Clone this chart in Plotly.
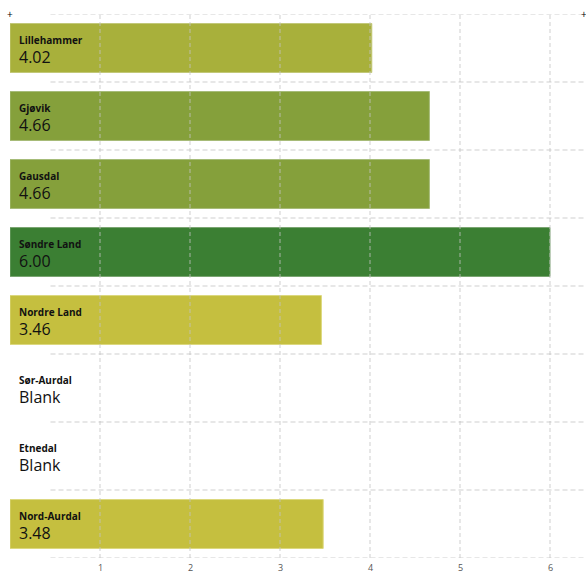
import plotly.graph_objects as go

categories = ["Lillehammer", "Gjøvik", "Gausdal", "Søndre Land", "Nordre Land", "Sør-Aurdal", "Etnedal", "Nord-Aurdal"]
values = [4.02, 4.66, 4.66, 6.00, 3.46, None, None, 3.48]
colors = ["#a8b03b", "#85a03b", "#85a03b", "#3b7f33", "#c5bf3f", "#cccccc", "#cccccc", "#c5bf3f"]
edge_colors = ["#c2c878", "#a6bb78", "#a6bb78", "#7aa572", "#dcd87e", "#eeeeee", "#eeeeee", "#dcd87e"]
tick_vals = [1, 2, 3, 4, 5, 6]

fig = go.Figure()
fig.add_trace(go.Bar(
    x=values, y=categories, orientation="h",
    marker=dict(color=colors, line=dict(color=edge_colors, width=1)),
    width=0.72, hoverinfo="skip",
))

FONT = "Open Sans"
ann = []
for c, v in zip(categories, values):
    ann.append(dict(x=0.078, y=c, xref="x", yref="y", text="<b>%s</b>" % c, showarrow=False,
                    xanchor="left", yanchor="middle", yshift=8, font=dict(family=FONT, size=10, color="#111")))
    ann.append(dict(x=0.078, y=c, xref="x", yref="y", text=("%.2f" % v) if v is not None else "Blank",
                    showarrow=False, xanchor="left", yanchor="middle", yshift=-9,
                    font=dict(family=FONT, size=16, color="#111")))
for t in tick_vals:
    ann.append(dict(x=t, y=0, xref="x", yref="paper", text=str(t), showarrow=False,
                    yanchor="middle", yshift=-9, borderpad=0, font=dict(family=FONT, size=9, color="#555")))
ann.append(dict(x=0, y=1, xref="paper", yref="paper", text="+", showarrow=False,
                xanchor="center", yanchor="middle", yshift=0, font=dict(family=FONT, size=10, color="#000")))
ann.append(dict(x=0.996, y=1, xref="paper", yref="paper", text="+", showarrow=False,
                xanchor="center", yanchor="middle", yshift=0, font=dict(family=FONT, size=10, color="#000")))

shapes = []
grid = dict(color="rgba(195,195,195,0.8)", width=1, dash="5px,3px")
for k in range(len(categories) + 1):
    yv = k - 0.5
    shapes.append(dict(type="line", xref="x", yref="y", x0=0.45, x1=6.4, y0=yv, y1=yv,
                       line=grid, layer="above"))
for t in tick_vals:
    shapes.append(dict(type="line", xref="x", yref="paper", x0=t, x1=t, y0=0, y1=1,
                       line=dict(color="rgba(195,195,195,0.8)", width=1, dash="4px,3px"), layer="above"))

fig.update_layout(
    width=586, height=574,
    margin=dict(l=10, r=0, t=14, b=16),
    paper_bgcolor="white", plot_bgcolor="white",
    showlegend=False,
    annotations=ann, shapes=shapes,
    xaxis=dict(range=[0, 6.4], showgrid=False, showticklabels=False, zeroline=False, ticks=""),
    yaxis=dict(categoryorder="array", categoryarray=categories, autorange=False,
               range=[len(categories) - 0.5, -0.5], showgrid=False, showticklabels=False,
               zeroline=False, ticks=""),
)
fig.write_html("out.html", config={"displayModeBar": False},
               post_script="document.body.style.margin='0';document.body.style.overflow='hidden';")
